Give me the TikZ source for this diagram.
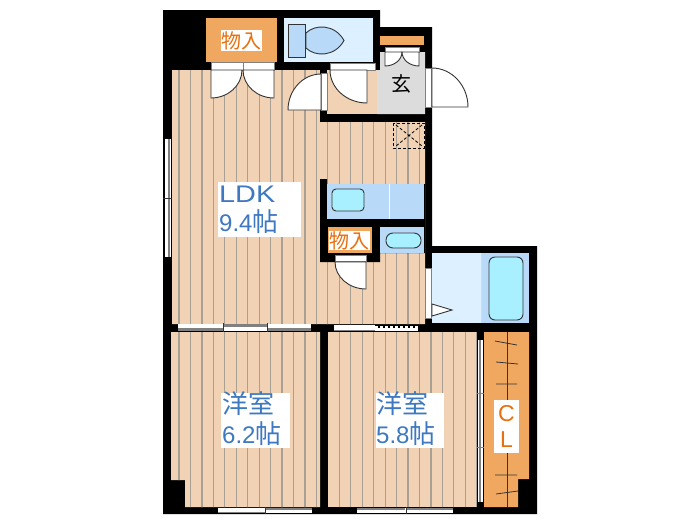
\documentclass[tikz,border=0pt]{standalone}
\usepackage{fontspec}
\usetikzlibrary{calc}
\setmainfont{Liberation Sans}
\newfontfamily\cjk{Noto Sans CJK JP}
\newfontfamily\widesans[FakeStretch=1.2]{Liberation Sans}
\definecolor{floorc}{HTML}{F2D2B4}
\definecolor{plank}{HTML}{A8A095}
\definecolor{orangec}{HTML}{F0A860}
\definecolor{paleblue}{HTML}{DDF0FF}
\definecolor{midblue}{HTML}{B8DAF8}
\definecolor{cyanc}{HTML}{A8F0FF}
\definecolor{grayc}{HTML}{DCDCDC}
\definecolor{bluetxt}{HTML}{3D78C0}
\definecolor{orangetxt}{HTML}{E87010}
\definecolor{linec}{HTML}{333333}
\tikzset{
 leaf/.style={fill=white,draw=linec,line width=0.9pt},
 strip/.style={fill=white,draw=gray,line width=0.6pt},
 fixture/.style={draw=linec,line width=0.9pt,fill=cyanc,rounded corners=4pt},
 bluelabel/.style={fill=white,text=bluetxt,font=\fontsize{24}{27}\selectfont,align=left,inner sep=0pt,anchor=north west},
 orangelabel/.style={fill=white,text=orangetxt,inner sep=0pt},
 tick/.style={draw=linec,line width=0.8pt},
}
% hinge, closed-edge end, swing end
\newcommand\doorleaf[6]{\draw[leaf] (#1,#2)--(#3,#4) .. controls ($(#3,#4)!0.55!({#3+#5-#1},{#4+#6-#2})$) and ($(#5,#6)!0.55!({#3+#5-#1},{#4+#6-#2})$) .. (#5,#6)--cycle;}
\begin{document}
\begin{tikzpicture}[x=1pt,y=-1pt]
\useasboundingbox (0,0) rectangle (700,525);
\fill[white] (0,0) rectangle (700,525);
% outer mass of walls
\fill[black] (163,10)--(380,10)--(380,27)--(432,27)--(432,246)--(537,246)--(537,514)--(163,514)--cycle;
% floors
\fill[floorc] (172,70)--(320,70)--(320,122)--(425,122)--(425,324)--(172,324)--cycle;
\fill[floorc] (171,332)--(320,332)--(320,507)--(185,507)--(185,480)--(171,480)--cycle;
\fill[floorc] (328,332) rectangle (477,507);
% planks
\begin{scope}
\clip (172,70)--(320,70)--(320,122)--(425,122)--(425,324)--(172,324)--cycle
 (171,332)--(320,332)--(320,507)--(185,507)--(185,480)--(171,480)--cycle
 (328,332) rectangle (477,507);
\foreach \i in {0,...,26} \draw[plank,line width=1.2pt] ({179+11.45*\i},60)--({179+11.45*\i},515);
\end{scope}
\fill[floorc] (327,70) rectangle (377,114);
% walls over the floor
\fill[black] (320,62) rectangle (327,122);
\fill[black] (320,114) rectangle (425,122);
\fill[black] (320,179)--(327,179)--(327,184)--(425,184)--(425,253)--(380,253)--(380,262)--(320,262)--cycle;
% rooms
\fill[orangec] (206,18) rectangle (277,62);
\fill[paleblue] (284,18) rectangle (373,62);
\fill[grayc] (380,52)--(425,52)--(425,114)--(377,114)--(377,70)--(380,70)--cycle;
\fill[orangec] (380,36) rectangle (424,45);
\fill[midblue] (327,184) rectangle (424,219);
\draw[white,line width=1pt] (389,184)--(389,219);
\draw[fixture] (332,189) rectangle (364,211);
\fill[orangec] (328,227) rectangle (372,253);
\fill[midblue] (380,227) rectangle (424,253);
\draw[fixture,rounded corners=7pt] (386,233) rectangle (421,248);
\fill[paleblue] (432,253) rectangle (481,323);
\fill[midblue] (481,253) rectangle (529,323);
\draw[white!70!gray,line width=0.8pt] (481,253)--(481,323);
\draw[fixture,rounded corners=6pt] (489,257) rectangle (523,320);
\fill[orangec] (484,332)--(529,332)--(529,479)--(518,479)--(518,507)--(484,507)--cycle;
% toilet
\draw[leaf,fill=midblue] (288,24) rectangle (305,57);
\draw[leaf,fill=midblue] (306,33)..controls (315,24) and (335,24) ..(344,40.5)..controls (335,57) and (315,57)..(306,48)--cycle;
% door strips
\draw[strip] (211,62) rectangle (274,70);
\draw[gray,line width=0.6pt] (243,62)--(243,70);
\draw[strip] (330,63) rectangle (375,70);
\draw[strip] (321,73) rectangle (327,110);
\draw[strip] (385,47) rectangle (419,52);
\draw[strip] (425,68) rectangle (431,107);
\draw[strip] (335,255) rectangle (366,261);
\draw[strip] (425,268) rectangle (431,318);
% door leaves
\doorleaf{211}{70}{211}{98}{242}{70}
\doorleaf{274}{70}{274}{98}{243}{70}
\doorleaf{321}{110}{288}{110}{321}{74}
\doorleaf{367}{70}{367}{103}{330}{70}
\doorleaf{385}{52}{385}{66}{402}{52}
\doorleaf{419}{52}{419}{66}{402}{52}
\doorleaf{432}{107}{468}{107}{432}{68}
\doorleaf{366}{262}{366}{289}{335}{262}
\draw[leaf] (432,304)--(452,310)--(432,316)--cycle;
% windows and sliding doors
\fill[white] (165,139) rectangle (171,257);
\draw[gray,line width=1.2pt] (169,139)--(169,257);
\draw[tick] (163,198)--(172,198);
\fill[white] (178,324) rectangle (311,331);
\fill[gray] (178,328) rectangle (223,331);
\fill[gray] (267,328) rectangle (311,331);
\fill[gray] (223,324) rectangle (267,327);
\draw[tick] (223,323)--(223,332) (267,323)--(267,332);
\fill[white] (334,325) rectangle (418,331);
\fill[black] (375,325) rectangle (418,327.5);
\draw[white,line width=1.2pt,dash pattern=on 3pt off 2pt] (375,327)--(418,327);
\fill[gray] (334,330) rectangle (375,331);
\fill[white] (218,508) rectangle (312,513);
\fill[gray] (265,508) rectangle (312,510);
\fill[gray] (218,512) rectangle (265,513);
\draw[tick] (265,507)--(265,514);
\fill[white] (357,508) rectangle (453,513);
\fill[gray] (357,508) rectangle (405,510);
\fill[gray] (406,508) rectangle (453,510);
\draw[tick] (406,507)--(406,514);
\fill[white] (478,340) rectangle (483,502);
\fill[gray] (479,340) rectangle (481,502);
\draw[tick,gray] (476.5,393)--(484,393) (476.5,447)--(484,447);
% dashed shaft mark
\draw[black,line width=0.8pt,dash pattern=on 3pt off 2pt] (393,123) rectangle (424,148);
\draw[black,line width=0.8pt,dash pattern=on 3pt off 2pt] (396,125)--(422,146) (422,125)--(396,146);
% closet rail
\draw[tick] (507,332)--(507,507);
\draw[tick] (495,341)--(517,345) (496,362)--(518,364) (496,384)--(517,384) (496,435)--(518,434) (495,475)--(517,475) (496,494)--(518,491);
% labels
\node[orangelabel,minimum width=41pt,minimum height=21pt,font=\cjk\fontsize{20}{22}\selectfont] (storeA) at (241.5,40.5) {物入};
\node[orangelabel,minimum width=41pt,minimum height=19pt,font=\cjk\fontsize{20}{22}\selectfont] (storeB) at (349.5,240.5) {物入};
\node[font=\cjk\fontsize{20}{22}\selectfont,text=black,inner sep=0pt] (hall) at (401,84) {玄};
\node[bluelabel,minimum width=83pt,minimum height=55pt] (ldkbox) at (218,182) {};
\node[bluelabel,fill=none] (ldk) at (219,186) {{\widesans LDK}\\[2pt]9.4{\cjk\fontsize{26}{27}\selectfont 帖}};
\node[bluelabel,minimum width=69pt,minimum height=55pt] (roomAbox) at (221,393) {};
\node[bluelabel,fill=none] (roomA) at (222,391) {{\cjk\fontsize{26}{27}\selectfont 洋室}\\[3pt]6.2{\cjk\fontsize{26}{27}\selectfont 帖}};
\node[bluelabel,minimum width=68pt,minimum height=55pt] (roomBbox) at (376,393) {};
\node[bluelabel,fill=none] (roomB) at (376,391) {{\cjk\fontsize{26}{27}\selectfont 洋室}\\[3pt]5.8{\cjk\fontsize{26}{27}\selectfont 帖}};
\node[orangelabel,minimum width=25pt,minimum height=53pt,align=center,font=\fontsize{23}{26}\selectfont] (closet) at (506.5,426.5) {C\\L};
\end{tikzpicture}
\end{document}
